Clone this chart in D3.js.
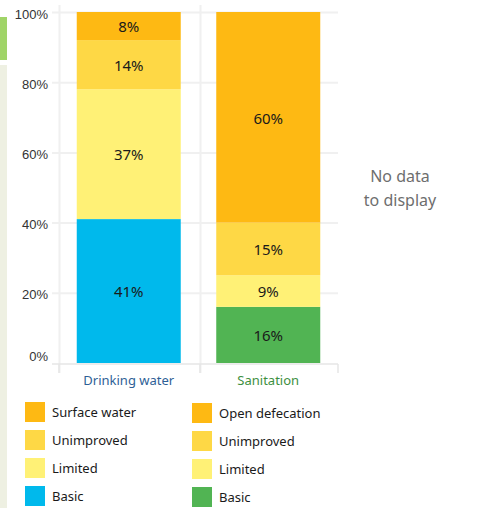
<!DOCTYPE html>
<html>
<head>
<meta charset="utf-8">
<script src="https://cdn.jsdelivr.net/npm/d3@7"></script>
<style>
  body { margin: 0; background: #fff; }
  svg { display: block; }
  text { font-family: "Noto Sans", "Open Sans", sans-serif; }
</style>
</head>
<body>
<div id="chart"></div>
<script>
// data
var panels = ['Drinking water', 'Sanitation'];
var levels = ['Basic', 'Limited', 'Unimproved', 'Top'];
var waterValues = [41, 37, 14, 8];
var sanitationValues = [16, 9, 15, 60];
var waterLegend = ['Surface water', 'Unimproved', 'Limited', 'Basic'];
var sanitationLegend = ['Open defecation', 'Unimproved', 'Limited', 'Basic'];
var yTicks = [0, 20, 40, 60, 80, 100];

var waterColors = ['#00b9ec', '#fff176', '#fed845', '#feb913'];
var sanitationColors = ['#51b453', '#fff176', '#fed845', '#feb913'];
var panelLabelColors = ['#2e5f96', '#3d8f3f'];

var width = 493, height = 508;

var svg = d3.select('#chart').append('svg')
  .attr('width', width)
  .attr('height', height);

// left dashboard strip
svg.append('rect').attr('x', 0).attr('y', 17).attr('width', 7).attr('height', 43).attr('fill', '#a0d468');
svg.append('rect').attr('x', 0).attr('y', 65).attr('width', 7).attr('height', height - 65).attr('fill', '#eef0e2');

var y = d3.scaleLinear().domain([0, 100]).range([363, 12]);
var x = d3.scaleBand().domain(panels).range([59, 338]);
var barW = 104;

// gridlines
svg.selectAll('.grid').data(yTicks.filter(function(d) { return d > 0; }))
  .enter().append('line')
    .attr('x1', 52).attr('x2', 338)
    .attr('y1', function(d) { return y(d) + 0.5; })
    .attr('y2', function(d) { return y(d) + 0.5; })
    .attr('stroke', '#f0f0f0').attr('stroke-width', 2);

// panel dividers
svg.selectAll('.divider').data([59, 200])
  .enter().append('line')
    .attr('x1', function(d) { return d + 0.5; }).attr('x2', function(d) { return d + 0.5; })
    .attr('y1', 5).attr('y2', 373)
    .attr('stroke', '#f0f0f0').attr('stroke-width', 2);

// baseline and brackets
svg.append('line')
  .attr('x1', 52).attr('x2', 338).attr('y1', 364).attr('y2', 364)
  .attr('stroke', '#e6e6e6').attr('stroke-width', 1.5);
svg.selectAll('.bracket').data([59, 200, 338])
  .enter().append('line')
    .attr('x1', function(d) { return d; }).attr('x2', function(d) { return d; })
    .attr('y1', 364).attr('y2', 373)
    .attr('stroke', '#e6e6e6').attr('stroke-width', 1.5);

// y axis labels (0% sits just above the baseline)
svg.selectAll('.ytick').data(yTicks)
  .enter().append('text')
    .attr('x', 48)
    .attr('y', function(d) { return d === 0 ? y(d) - 7 : y(d) + 2; })
    .attr('dy', '0.35em')
    .attr('text-anchor', 'end')
    .style('font-family', '"Liberation Sans", Arial, sans-serif')
    .style('font-size', '13px')
    .attr('fill', '#333')
    .text(function(d) { return d + '%'; });

// stacked bars
var series = [waterValues, sanitationValues];
var colors = [waterColors, sanitationColors];
series.forEach(function(vals, p) {
  var stacked = [], acc = 0;
  vals.forEach(function(v, i) { stacked.push({ y0: acc, y1: acc + v, v: v, c: colors[p][i] }); acc += v; });
  var cx = x(panels[p]) + x.bandwidth() / 2;
  var g = svg.append('g');
  g.selectAll('rect').data(stacked)
    .enter().append('rect')
      .attr('x', cx - barW / 2)
      .attr('width', barW)
      .attr('y', function(d) { return y(d.y1); })
      .attr('height', function(d) { return y(d.y0) - y(d.y1); })
      .attr('fill', function(d) { return d.c; });
  g.selectAll('text').data(stacked)
    .enter().append('text')
      .attr('x', cx)
      .attr('y', function(d) { return (y(d.y0) + y(d.y1)) / 2 + 1; })
      .attr('dy', '0.35em')
      .attr('text-anchor', 'middle')
      .style('font-size', '15px')
      .attr('fill', '#1a1a1a')
      .text(function(d) { return d.v + '%'; });
});

// panel labels
svg.selectAll('.plabel').data(panels)
  .enter().append('text')
    .attr('x', function(d) { return x(d) + x.bandwidth() / 2; })
    .attr('y', 385)
    .attr('text-anchor', 'middle')
    .style('font-size', '13px')
    .attr('fill', function(d, i) { return panelLabelColors[i]; })
    .text(String);

// no data message
svg.append('text').attr('x', 400).attr('y', 182).attr('text-anchor', 'middle')
  .style('font-size', '16px').attr('fill', '#6e6e6e').text('No data');
svg.append('text').attr('x', 400).attr('y', 206).attr('text-anchor', 'middle')
  .style('font-size', '16px').attr('fill', '#6e6e6e').text('to display');

// legends
var legendColorsW = [waterColors[3], waterColors[2], waterColors[1], waterColors[0]];
var legendColorsS = [sanitationColors[3], sanitationColors[2], sanitationColors[1], sanitationColors[0]];
[[waterLegend, legendColorsW, 25, 402], [sanitationLegend, legendColorsS, 192, 403]].forEach(function(l) {
  var items = svg.selectAll(null).data(l[0])
    .enter().append('g')
      .attr('transform', function(d, i) { return 'translate(' + l[2] + ',' + (l[3] + i * 28) + ')'; });
  items.append('rect')
    .attr('width', 20).attr('height', 20)
    .attr('fill', function(d, i) { return l[1][i]; });
  items.append('text')
    .attr('x', 27).attr('y', 10).attr('dy', '0.35em')
    .style('font-size', '13px')
    .attr('fill', '#1a1a1a')
    .text(String);
});
</script>
</body>
</html>
